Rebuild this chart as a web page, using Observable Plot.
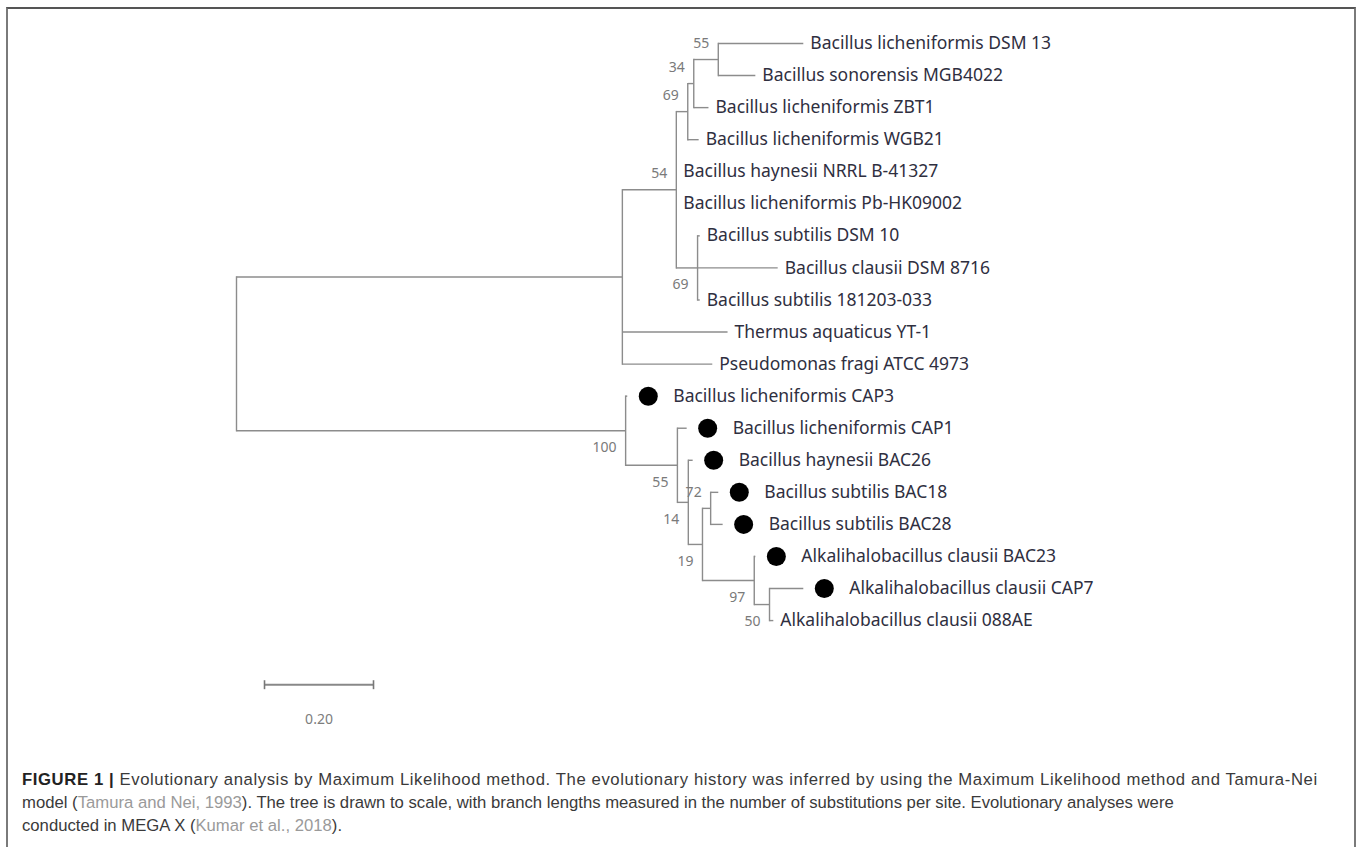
<!DOCTYPE html>
<html><head><meta charset="utf-8">
<script src="https://cdn.jsdelivr.net/npm/d3@7"></script>
<script src="https://cdn.jsdelivr.net/npm/@observablehq/plot@0.6"></script>
<style>
body{margin:0;background:#fff;width:1358px;height:847px;overflow:hidden;position:relative}
#frame{position:absolute;left:6px;top:7px;width:1350px;height:900px;border:2px solid #7a7a7a;border-top-color:#555;box-sizing:border-box}
#chart{position:absolute;left:0;top:0}
#caption{position:absolute;left:22px;top:768px;white-space:nowrap;font-family:"Liberation Sans",Arial,sans-serif;font-size:16.7px;line-height:23px;color:#3a3a3a}
#caption div{height:23px}
#caption .l1{letter-spacing:0.6px}
#caption b{color:#222}
#caption .ref{color:#9a9a9a}
</style></head><body>
<div id="frame"></div>
<div id="chart"></div>
<div id="caption"><div class="l1"><b>FIGURE 1 |</b> Evolutionary analysis by Maximum Likelihood method. The evolutionary history was inferred by using the Maximum Likelihood method and Tamura-Nei</div><div>model (<span class="ref">Tamura and Nei, 1993</span>). The tree is drawn to scale, with branch lengths measured in the number of substitutions per site. Evolutionary analyses were</div><div>conducted in MEGA X (<span class="ref">Kumar et al., 2018</span>).</div></div>
<script>
// ---- data: tree nodes in top-to-bottom (depth-first) order ----
const nodeName = [
  "root", "n1", "n2", "n3", "n4", "n5",
  "Bacillus licheniformis DSM 13", "Bacillus sonorensis MGB4022",
  "Bacillus licheniformis ZBT1", "Bacillus licheniformis WGB21",
  "Bacillus haynesii NRRL B-41327", "Bacillus licheniformis Pb-HK09002",
  "n6", "Bacillus subtilis DSM 10", "Bacillus clausii DSM 8716", "Bacillus subtilis 181203-033",
  "Thermus aquaticus YT-1", "Pseudomonas fragi ATCC 4973",
  "n7", "Bacillus licheniformis CAP3", "n8", "Bacillus licheniformis CAP1",
  "n9", "Bacillus haynesii BAC26", "n10", "n11",
  "Bacillus subtilis BAC18", "Bacillus subtilis BAC28",
  "n12", "Alkalihalobacillus clausii BAC23", "n13",
  "Alkalihalobacillus clausii CAP7", "Alkalihalobacillus clausii 088AE"
];
const nodeParent = [
  -1, 0, 1, 2, 3, 4,
  5, 5,
  4, 3,
  2, 2,
  2, 12, 12, 12,
  1, 1,
  0, 18, 18, 20,
  20, 22, 22, 24,
  25, 25,
  24, 28, 28,
  30, 30
];
// distance from root (substitutions per site)
const nodeDepth = [
  0, 0.708, 0.807, 0.828, 0.839, 0.884,
  1.040, 0.952,
  0.866, 0.848,
  0.807, 0.807,
  0.846, 0.850, 0.993, 0.850,
  0.901, 0.873,
  0.714, 0.717, 0.809, 0.826,
  0.829, 0.837, 0.855, 0.870,
  0.884, 0.892,
  0.950, 0.952, 0.978,
  1.040, 0.985
];
// bootstrap support
const nodeSupport = [
  null, null, 54, 69, 34, 55,
  null, null, null, null, null, null,
  69, null, null, null, null, null,
  100, null, 55, null,
  14, null, 19, 72,
  null, null,
  97, null, 50,
  null, null
];
const markedIsolates = [
  "Bacillus licheniformis CAP3", "Bacillus licheniformis CAP1", "Bacillus haynesii BAC26",
  "Bacillus subtilis BAC18", "Bacillus subtilis BAC28",
  "Alkalihalobacillus clausii BAC23", "Alkalihalobacillus clausii CAP7"
];
const scaleBarLength = 0.20;
const scaleBarLabel = "0.20";

// ---- layout ----
const n = nodeName.length;
const children = Array.from({length: n}, () => []);
nodeParent.forEach((p, i) => { if (p >= 0) children[p].push(i); });
const row = new Array(n);
let leafCount = 0;
(function layout(i) {
  const c = children[i];
  if (c.length === 0) { row[i] = leafCount++; return; }
  c.forEach(layout);
  row[i] = (row[c[0]] + row[c[c.length - 1]]) / 2;
})(0);

const nodes = nodeName.map((name, i) => ({
  i, name, depth: nodeDepth[i], row: row[i], parent: nodeParent[i],
  leaf: children[i].length === 0, support: nodeSupport[i],
  marked: markedIsolates.includes(name),
  first: nodeParent[i] >= 0 && children[nodeParent[i]][0] === i
}));
const hBranches = nodes.filter(d => d.parent >= 0 && d.depth > nodeDepth[d.parent])
  .map(d => ({x1: nodeDepth[d.parent], x2: d.depth, y: d.row}));
const vBranches = nodes.filter(d => !d.leaf).map(d => {
  const c = children[d.i];
  return {x: d.depth, y1: row[c[0]], y2: row[c[c.length - 1]]};
});
const leaves = nodes.filter(d => d.leaf);
const supports = nodes.filter(d => d.support != null);

const W = 1358, H = 740;
const pxPerUnit = 545, rootPx = 236, rowTop = 43, rowGap = 32.06;
const barStart = 0.0514, barRow = 20, barLabelRow = 21.1, tick = 0.14;
const lineColor = "#8c8c8c";
const labelSize = 17.5;

const chart = Plot.plot({
  width: W, height: H, margin: 0,
  style: {fontFamily: "Noto Sans, sans-serif", background: "transparent", overflow: "visible"},
  x: {domain: [-rootPx / pxPerUnit, (W - rootPx) / pxPerUnit], range: [0, W], axis: null},
  y: {domain: [-rowTop / rowGap, (H - rowTop) / rowGap], range: [0, H], axis: null},
  marks: [
    Plot.link(hBranches, {x1: "x1", x2: "x2", y1: "y", y2: "y", stroke: lineColor, strokeWidth: 1.4}),
    Plot.link(vBranches, {x1: "x", x2: "x", y1: "y1", y2: "y2", stroke: lineColor, strokeWidth: 1.4, strokeLinecap: "square"}),
    Plot.text(leaves.filter(d => !d.marked), {x: "depth", y: "row", text: "name", dx: 7, textAnchor: "start", fontSize: labelSize, fill: "#2f2f3f"}),
    Plot.text(leaves.filter(d => d.marked), {x: "depth", y: "row", text: "name", dx: 46, textAnchor: "start", fontSize: labelSize, fill: "#2f2f3f"}),
    Plot.dot(leaves.filter(d => d.marked), {x: "depth", y: "row", dx: 21, r: 9.5, fill: "#000", stroke: "none"}),
    Plot.text(supports.filter(d => d.first), {x: "depth", y: "row", text: d => String(d.support), dx: -9, dy: -16, textAnchor: "end", fontSize: 14, fill: "#7a7a7a"}),
    Plot.text(supports.filter(d => !d.first), {x: "depth", y: "row", text: d => String(d.support), dx: -9, dy: 17, textAnchor: "end", fontSize: 14, fill: "#7a7a7a"}),
    Plot.link([{x1: barStart, x2: barStart + scaleBarLength}], {x1: "x1", x2: "x2", y1: () => barRow, y2: () => barRow, stroke: "#888", strokeWidth: 2}),
    Plot.link([barStart, barStart + scaleBarLength], {x1: d => d, x2: d => d, y1: () => barRow - tick, y2: () => barRow + tick, stroke: "#777", strokeWidth: 1.6}),
    Plot.text([scaleBarLabel], {x: () => barStart + scaleBarLength / 2, y: () => barLabelRow, text: d => d, fontSize: 14, fill: "#7d7d7d"})
  ]
});
document.getElementById("chart").appendChild(chart);
</script>
</body></html>
